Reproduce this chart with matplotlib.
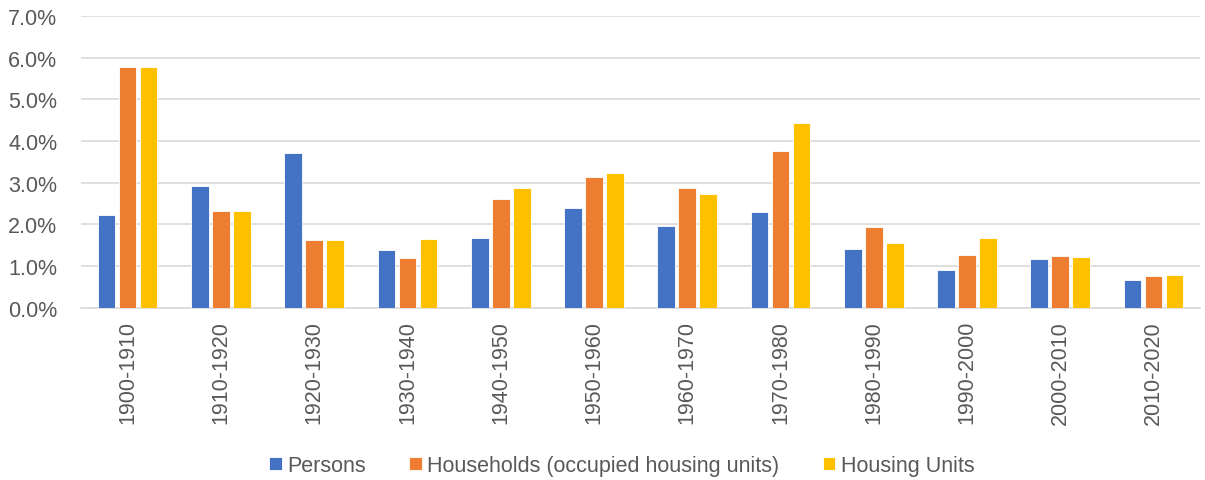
import matplotlib
matplotlib.use("Agg")
import matplotlib.pyplot as plt
import numpy as np
from matplotlib.ticker import FuncFormatter

plt.rcParams["font.family"] = ["Liberation Sans Narrow", "Liberation Sans", "DejaVu Sans"]

decades = ["1900-1910", "1910-1920", "1920-1930", "1930-1940", "1940-1950", "1950-1960",
           "1960-1970", "1970-1980", "1980-1990", "1990-2000", "2000-2010", "2010-2020"]
persons = [2.21, 2.91, 3.70, 1.39, 1.68, 2.38, 1.96, 2.30, 1.40, 0.90, 1.16, 0.67]
households = [5.77, 2.31, 1.61, 1.19, 2.60, 3.14, 2.86, 3.77, 1.93, 1.25, 1.23, 0.75]
housing_units = [5.77, 2.31, 1.61, 1.65, 2.87, 3.22, 2.72, 4.43, 1.55, 1.68, 1.21, 0.77]

series = [
    ("Persons", persons, "#4472C4"),
    ("Households (occupied housing units)", households, "#ED7D31"),
    ("Housing Units", housing_units, "#FFC000"),
]

fig = plt.figure(figsize=(12.05, 4.81), dpi=100)
ax = fig.add_axes([0.0672, 0.3586, 0.9288, 0.6061])

x = np.arange(len(decades))
offsets = [-0.225, 0.0, 0.225]
for (name, vals, color), off in zip(series, offsets):
    ax.bar(x + off, vals, width=0.19, color=color, edgecolor="white", linewidth=0.6,
           label=name, zorder=3)

ax.set_xlim(-0.5, len(decades) - 0.5)
ax.set_ylim(0, 7.0)
ax.set_yticks(np.arange(0, 7.01, 1.0))
ax.yaxis.set_major_formatter(FuncFormatter(lambda v, _: f"{v:.1f}%"))
ax.set_xticks(x)
ax.set_xticklabels(decades, rotation=90)

ax.grid(axis="y", color="#d9d9d9", linewidth=1.2, zorder=0)
for side in ["top", "right", "left"]:
    ax.spines[side].set_visible(False)
ax.spines["bottom"].set_color("#d9d9d9")
ax.spines["bottom"].set_linewidth(1.2)
ax.tick_params(axis="both", length=0, labelsize=15.5, colors="#595959")
ax.tick_params(axis="y", pad=17)
ax.tick_params(axis="x", pad=9)

leg = fig.legend(loc="center", bbox_to_anchor=(0.516, 0.03), ncol=3, frameon=False,
                 fontsize=15.5, handlelength=0.6, handleheight=0.6, handletextpad=0.25,
                 columnspacing=2.0)
for t in leg.get_texts():
    t.set_color("#595959")

fig.savefig("out.png", dpi=100)
